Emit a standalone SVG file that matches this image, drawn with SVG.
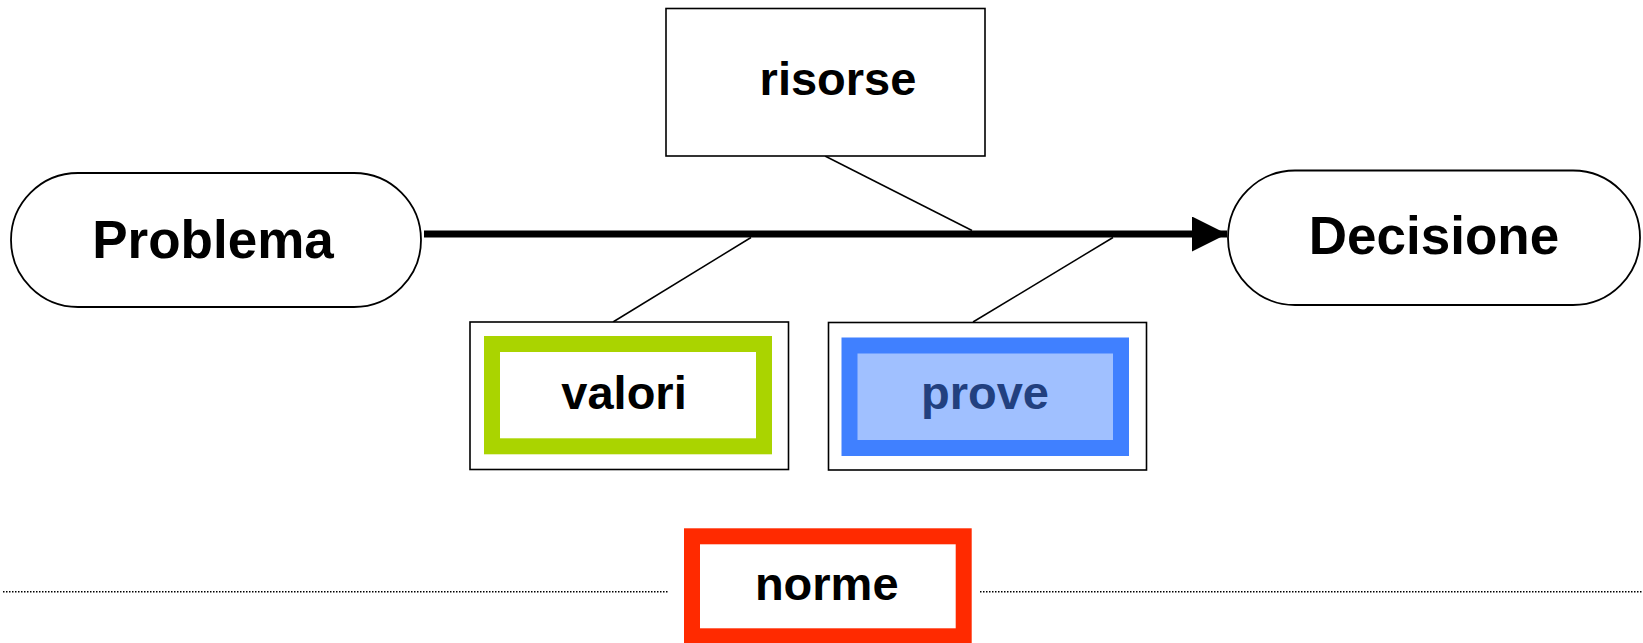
<svg xmlns="http://www.w3.org/2000/svg" width="1643" height="643" viewBox="0 0 1643 643">
  <style>
    text { font-family: "Liberation Sans", Arial, sans-serif; font-weight: bold; text-anchor: middle; fill: #000; }
    .big { font-size: 53px; }
    .mid { font-size: 47px; }
    .pill { fill: #fff; stroke: #000; stroke-width: 1.8; }
    .frame { fill: #fff; stroke: #000; stroke-width: 1.6; }
    .thin { stroke: #000; stroke-width: 1.5; fill: none; }
  </style>
  <defs>
    <marker id="head" markerUnits="userSpaceOnUse" markerWidth="36" markerHeight="36" refX="35" refY="17.5" orient="auto">
      <path d="M0,0 L35,17.5 L0,35 Z" fill="#000"/>
    </marker>
  </defs>

  <rect width="1643" height="643" fill="#fff"/>

  <!-- connectors -->
  <g id="connectors">
    <line x1="424" y1="234" x2="1227" y2="234" stroke="#000" stroke-width="7" marker-end="url(#head)"/>
    <line class="thin" x1="825" y1="156" x2="972" y2="230.5"/>
    <line class="thin" x1="613" y1="322" x2="751" y2="237.5"/>
    <line class="thin" x1="973" y1="322" x2="1113" y2="237.5"/>
    <line x1="3" y1="591.7" x2="668" y2="591.7" stroke="#000" stroke-width="1.5" stroke-dasharray="1.5 1.5"/>
    <line x1="980" y1="591.7" x2="1643" y2="591.7" stroke="#000" stroke-width="1.5" stroke-dasharray="1.5 1.5"/>
  </g>

  <!-- start node -->
  <g id="problema">
    <rect class="pill" x="11" y="173" width="410" height="134" rx="67" ry="67"/>
    <text class="big" x="213" y="257.5">Problema</text>
  </g>

  <!-- end node -->
  <g id="decisione">
    <rect class="pill" x="1228" y="170.5" width="412" height="134.5" rx="67" ry="67"/>
    <text class="big" x="1434" y="254">Decisione</text>
  </g>

  <!-- resources -->
  <g id="risorse">
    <rect class="frame" x="666" y="8.5" width="319" height="147.5"/>
    <text class="mid" x="838" y="95">risorse</text>
  </g>

  <!-- values -->
  <g id="valori">
    <rect class="frame" x="470" y="322" width="318.5" height="147.5"/>
    <rect x="492" y="344" width="272" height="102.3" fill="#fff" stroke="#aad400" stroke-width="16"/>
    <text class="mid" x="624" y="408.5">valori</text>
  </g>

  <!-- evidence -->
  <g id="prove">
    <rect class="frame" x="828.5" y="322.5" width="318" height="147.5"/>
    <rect x="849.5" y="345.5" width="271.5" height="102.5" fill="#a0c0ff" stroke="#4080ff" stroke-width="16"/>
    <text class="mid" x="985" y="409" style="fill:#22407f">prove</text>
  </g>

  <!-- norms -->
  <g id="norme">
    <rect x="692" y="536.3" width="271.7" height="100" fill="#fff" stroke="#ff2a00" stroke-width="16"/>
    <text class="mid" x="826.7" y="600">norme</text>
  </g>
</svg>
